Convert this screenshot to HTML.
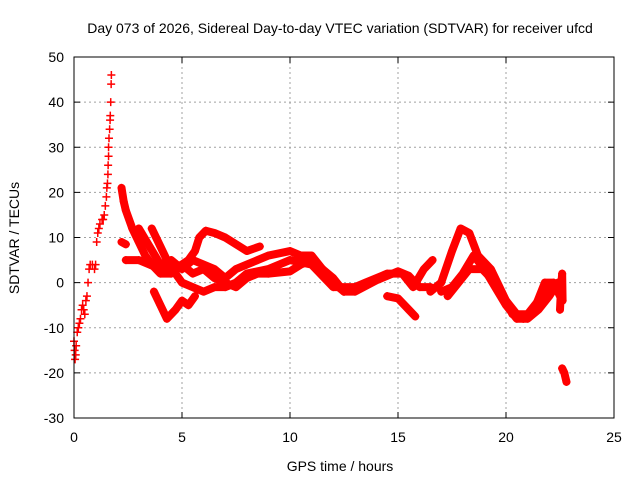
<!DOCTYPE html>
<html><head><meta charset="utf-8"><style>
html,body{margin:0;padding:0;background:#fff;}
svg{display:block;font-family:"Liberation Sans",sans-serif;}
</style></head><body>
<svg id="chart" width="640" height="480" viewBox="0 0 640 480">
<text x="340" y="33" font-size="14" text-anchor="middle">Day 073 of 2026, Sidereal Day-to-day VTEC variation (SDTVAR) for receiver ufcd</text>
<g id="grid"></g>
<g id="ticks"></g>
<g id="series"></g>
<rect x="74" y="57" width="540" height="361" fill="none" stroke="#000" stroke-width="1"/>
<text x="340" y="471" font-size="14" text-anchor="middle">GPS time / hours</text>
<text x="19" y="238" font-size="14" text-anchor="middle" transform="rotate(-90 19 238)">SDTVAR / TECUs</text>
</svg>
<script>
const xTicks=[0,5,10,15,20,25];
const yTicks=[-30,-20,-10,0,10,20,30,40,50];
const trackRise=[[0,-13],[0.03,-15],[0.05,-17],[0.08,-16],[0.1,-14],[0.15,-11],[0.2,-10],[0.25,-9],[0.3,-8],[0.35,-6],[0.4,-5],[0.45,-6],[0.5,-7],[0.55,-4],[0.6,-3],[0.65,0],[0.7,3],[0.75,4],[0.85,4],[0.95,3],[1.0,4],[1.05,9],[1.1,11],[1.15,12],[1.2,13],[1.3,14],[1.35,14],[1.4,15],[1.45,17],[1.5,19],[1.52,21],[1.55,22],[1.57,24],[1.58,26],[1.6,28],[1.6,30],[1.62,32],[1.65,34],[1.67,36],[1.68,37],[1.7,40],[1.72,44],[1.73,46]];
const trackB=[[2.2,21],[2.3,18],[2.4,16],[2.7,12],[3.0,9],[3.3,6],[3.6,4],[4.0,2],[4.5,2],[5.0,4],[5.3,5],[5.6,7],[5.8,10],[6.1,11.5],[6.5,11],[7.0,10],[7.5,8.5],[8.0,7],[8.6,8]];
const trackC=[[2.4,5],[3.0,5],[3.5,4],[4.0,3],[4.5,3],[5.0,4],[5.5,2],[6.0,3],[6.5,1],[7.0,0],[7.5,-1],[8.0,1],[8.5,2],[9.0,2],[10.0,2.5],[10.5,4],[11.0,5],[11.5,3],[12.0,1],[12.5,-2],[13.0,-2],[14.0,0.5],[15.0,2.5],[15.5,1.5],[16.0,-1],[16.5,-1]];
const trackD=[[3.0,12],[3.5,8],[4.0,4],[4.5,5],[5.0,3],[5.5,5],[6.0,4],[6.5,3],[7.0,1],[7.5,3],[8.0,4],[8.5,5],[9.0,6],[10.0,7],[10.5,6],[11.0,6],[11.5,3],[12.0,0],[12.5,-2],[13.5,0],[14.5,2],[15.2,2],[15.7,-1],[16.2,3],[16.6,5]];
const trackE=[[3.7,-2],[4.0,-5],[4.3,-8],[4.7,-6],[5.0,-4],[5.3,-5],[5.6,-3]];
const trackF=[[3.6,12],[4.0,8],[4.4,4],[5.0,0],[5.5,-1],[6.0,-2],[6.5,-1],[7.0,-1],[7.5,0],[8.0,2],[9.0,3],[10.0,5],[11.0,4],[12.0,-1],[13.0,-1]];
const trackG=[[16.5,-2],[17.0,0],[17.5,7],[17.9,12],[18.3,11],[18.7,6],[19.3,3],[19.8,-2],[20.3,-7],[20.8,-8],[21.3,-6],[21.8,0],[22.2,0],[22.5,-3]];
const trackH=[[17.3,-3],[17.8,0],[18.3,3],[18.9,3],[19.5,0],[20.0,-4],[20.5,-7],[21.0,-7],[21.5,-4],[22.0,-1],[22.5,-2]];
const trackI=[[14.5,-3],[15.0,-3.5],[15.5,-6],[15.8,-7.5]];
const trackJ=[[2.2,9],[2.4,8.5]];
const trackK=[[22.6,-19],[22.7,-20],[22.8,-22]];
const trackL=[[22.5,-6],[22.55,-1],[22.6,2],[22.62,-4]];
const trackM=[[17.0,-2],[17.5,-1],[18.0,2],[18.5,6],[19.0,3],[19.5,-1],[20.0,-5],[20.5,-8],[21.0,-8],[21.5,-6],[22.0,-3],[22.4,0]];
const tracks=[trackRise,trackB,trackC,trackD,trackE,trackF,trackG,trackH,trackI,trackJ,trackK,trackL,trackM];
const NS='http://www.w3.org/2000/svg';
const X0=74,X1=614,Y0=418,Y1=57,xmin=0,xmax=25,ymin=-30,ymax=50;
function sx(v){return X0+(v-xmin)/(xmax-xmin)*(X1-X0);}
function sy(v){return Y0-(v-ymin)/(ymax-ymin)*(Y0-Y1);}
function mk(tag,attrs,parent){const e=document.createElementNS(NS,tag);for(const k in attrs)e.setAttribute(k,attrs[k]);parent.appendChild(e);return e;}
const grid=document.getElementById('grid'),ticks=document.getElementById('ticks'),ser=document.getElementById('series');
xTicks.forEach(t=>{const x=sx(t);
 if(t>xmin&&t<xmax){const l=mk('line',{x1:x,x2:x,y1:Y1,y2:Y0,stroke:'#a0a0a0','stroke-dasharray':'2,3'},grid);
 
 }
 const tx=mk('text',{x:x,y:Y0+24,'font-size':14,'text-anchor':'middle'},ticks);tx.textContent=t;
 
 
 mk('line',{x1:x,x2:x,y1:Y0,y2:Y0-6,stroke:'#000'},ticks);mk('line',{x1:x,x2:x,y1:Y1,y2:Y1+6,stroke:'#000'},ticks);});
yTicks.forEach(t=>{const y=sy(t);
 if(t>ymin&&t<ymax){const l=mk('line',{x1:X0,x2:X1,y1:y,y2:y,stroke:'#a0a0a0','stroke-dasharray':'2,3'},grid);
 
 }
 const tx=mk('text',{x:X0-10,y:y+5,'font-size':14,'text-anchor':'end'},ticks);tx.textContent=t;
 
 
 mk('line',{x1:X0,x2:X0+6,y1:y,y2:y,stroke:'#000'},ticks);mk('line',{x1:X1,x2:X1-6,y1:y,y2:y,stroke:'#000'},ticks);});
tracks.forEach((tr,i)=>{
 const g=mk('g',{},ser);
 
 
 if(i>0){const pts=tr.map(p=>sx(p[0])+','+sy(p[1])).join(' ');
  mk('polyline',{points:pts,fill:'none',stroke:'#ff0000','stroke-width':8,'stroke-linejoin':'round','stroke-linecap':'round'},g);}
 tr.forEach(p=>{const x=sx(p[0]),y=sy(p[1]);
  const m=mk('path',{d:`M${x-4},${y}H${x+4}M${x},${y-4}V${y+4}`,stroke:'#ff0000','stroke-width':1.5},g);
  
  });
});
</script>
</body></html>
